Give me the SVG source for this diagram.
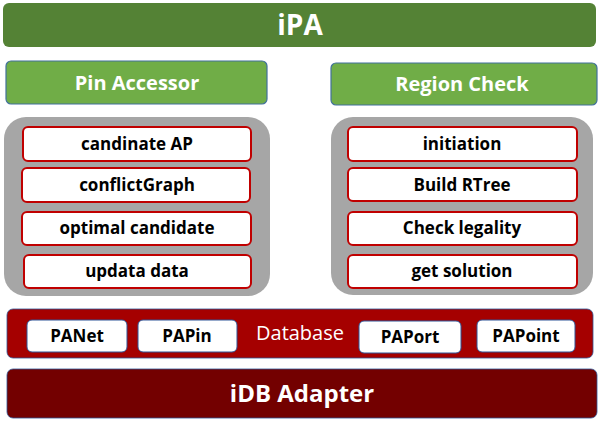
<svg xmlns="http://www.w3.org/2000/svg" width="606" height="423" viewBox="0 0 606 423">
<style>
text{font-family:"Open Sans","Noto Sans","Liberation Sans",sans-serif;text-anchor:middle}
.hdr{fill:#70AD47;stroke:#41719C;stroke-width:1.2}
.panel{fill:#A6A6A6}
.step{fill:#FFFFFF;stroke:#C00000;stroke-width:2}
.st{font-size:17px;font-weight:bold;fill:#000}
.obj{fill:#FFFFFF;stroke:#2F5597;stroke-width:1}
.w{fill:#FFFFFF;font-weight:bold}
</style>
<g id="ipa">
<rect x="3" y="3" width="593" height="44" rx="6" fill="#548235"/>
<text x="300" y="35" class="w" font-size="28">iPA</text>
</g>
<g id="pin-accessor">
<rect x="6" y="61" width="261" height="43" rx="5" class="hdr"/>
<text x="137" y="90" class="w" font-size="20">Pin Accessor</text>
</g>
<g id="region-check">
<rect x="331" y="63" width="266" height="42" rx="5" class="hdr"/>
<text x="462" y="91" class="w" font-size="20">Region Check</text>
</g>
<g id="pa-panel">
<rect x="4" y="117" width="266" height="179" rx="22" class="panel"/>
</g>
<g id="candinate-ap"><rect x="23" y="127" width="228" height="34" rx="5" class="step"/><text x="137" y="150" class="st">candinate AP</text></g>
<g id="conflictgraph"><rect x="22" y="168" width="228" height="34" rx="5" class="step"/><text x="137" y="191" class="st">conflictGraph</text></g>
<g id="optimal-candidate"><rect x="22" y="212" width="229" height="33" rx="5" class="step"/><text x="137" y="234" class="st">optimal candidate</text></g>
<g id="updata-data"><rect x="24" y="255" width="227" height="33" rx="5" class="step"/><text x="137" y="277" class="st">updata data</text></g>
<g id="rc-panel">
<rect x="331" y="117" width="262" height="178" rx="22" class="panel"/>
</g>
<g id="initiation"><rect x="348" y="127" width="229" height="34" rx="5" class="step"/><text x="462" y="150" class="st">initiation</text></g>
<g id="build-rtree"><rect x="348" y="168" width="229" height="33" rx="5" class="step"/><text x="462" y="191" class="st">Build RTree</text></g>
<g id="check-legality"><rect x="348" y="212" width="229" height="33" rx="5" class="step"/><text x="462" y="234" class="st">Check legality</text></g>
<g id="get-solution"><rect x="348" y="255" width="229" height="33" rx="5" class="step"/><text x="462" y="277" class="st">get solution</text></g>
<g id="database">
<rect x="7" y="309" width="586" height="49" rx="6" fill="#A50000" stroke="#2F5597" stroke-width="0.8"/>
<text x="300" y="340" font-size="20" fill="#FFFFFF">Database</text>
</g>
<g id="panet"><rect x="27" y="320" width="100" height="32" rx="5" class="obj"/><text x="77" y="342" class="st">PANet</text></g>
<g id="papin"><rect x="138" y="320" width="99" height="32" rx="5" class="obj"/><text x="187" y="342" class="st">PAPin</text></g>
<g id="paport"><rect x="359" y="321" width="102" height="32" rx="5" class="obj"/><text x="410" y="343" class="st">PAPort</text></g>
<g id="papoint"><rect x="477" y="320" width="98" height="32" rx="5" class="obj"/><text x="526" y="342" class="st">PAPoint</text></g>
<g id="idb-adapter">
<rect x="7" y="369" width="590" height="49" rx="6" fill="#730000" stroke="#2F5597" stroke-width="0.8"/>
<text x="302" y="402" class="w" font-size="24">iDB Adapter</text>
</g>
<g id="connectors"></g>
</svg>
